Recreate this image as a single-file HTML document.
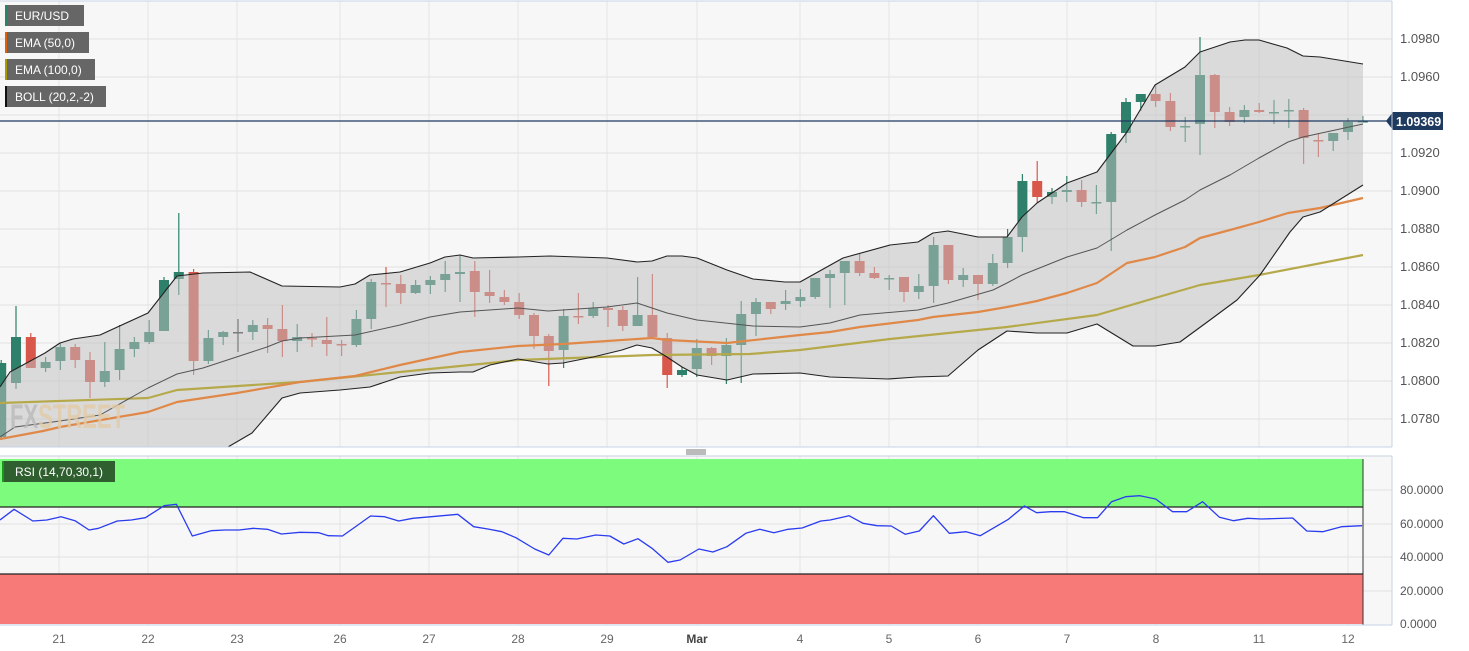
<!DOCTYPE html>
<html><head><meta charset="utf-8"><style>
html,body{margin:0;padding:0;background:#fff;width:1469px;height:651px;overflow:hidden;font-family:"Liberation Sans",sans-serif}
svg{display:block}
</style></head><body>
<svg id="s" width="1469" height="651" xmlns="http://www.w3.org/2000/svg" font-family="Liberation Sans, sans-serif"></svg>
<script>
const S=document.getElementById('s');let h='';
const R=(x,y,w,hh,f,ex='')=>h+=`<rect x="${x}" y="${y}" width="${w}" height="${hh}" fill="${f}" ${ex}/>`;
const L=(x1,y1,x2,y2,c,w=1)=>h+=`<line x1="${x1}" y1="${y1}" x2="${x2}" y2="${y2}" stroke="${c}" stroke-width="${w}"/>`;
const T=(x,y,t,sz,c,ex='')=>h+=`<text x="${x}" y="${y}" font-size="${sz}" fill="${c}" ${ex}>${t}</text>`;
const P=(pts,c,w,ex='')=>h+=`<polyline points="${pts.map(p=>p.join(',')).join(' ')}" fill="none" stroke="${c}" stroke-width="${w}" stroke-linejoin="round" ${ex}/>`;
// main panel bg
R(0,1,1392,446,'#f7f7f7');
R(0,456,1392,169,'#f7f7f7');
const days=[59,148,237,340,429,518,607,697,800,889,978,1067,1156,1259,1348];
days.forEach(x=>{L(x,1,x,447,'#e4e4e4');L(x,456,x,625,'#e4e4e4');});
for(let y=39;y<447;y+=38)L(0,y,1392,y,'#e2e2e2');
// candles
const C=[[363,437,360,440,'g'],[337,383,306,389,'g'],[337,368,333,368,'r'],[362,368,357,372,'g'],[347,361,343,370,'g'],[347,360,344,368,'r'],[360,382,352,398,'r'],[371,382,342,387,'g'],[349,370,325,380,'g'],[342,349,337,357,'g'],[332,342,320,344,'g'],[280,331,277,331,'g'],[272,279,213,295,'g'],[272,361,269,375,'r'],[338,361,330,364,'g'],[332,337,331,345,'g'],[332,333,319,352,'k'],[325,332,320,340,'g'],[325,329,318,353,'r'],[329,341,305,357,'r'],[337,341,324,352,'g'],[338,339,333,347,'r'],[340,344,317,356,'r'],[344,345,340,356,'r'],[319,345,310,347,'g'],[282,319,279,329,'g'],[283,284,267,307,'r'],[284,293,275,304,'r'],[285,293,280,294,'g'],[280,285,276,294,'g'],[274,280,261,292,'g'],[272,274,255,302,'g'],[271,292,261,317,'r'],[292,296,270,303,'r'],[297,302,290,305,'r'],[302,315,293,319,'r'],[315,336,313,349,'r'],[336,351,334,386,'r'],[316,350,309,368,'g'],[316,317,293,324,'r'],[308,316,302,318,'g'],[308,310,305,327,'r'],[310,326,306,331,'r'],[315,326,277,326,'g'],[315,337,274,337,'r'],[338,375,333,388,'r'],[370,375,367,377,'g'],[348,369,339,377,'g'],[348,356,347,365,'r'],[345,356,338,384,'g'],[314,345,301,383,'g'],[302,314,298,336,'g'],[302,309,302,314,'r'],[301,304,290,310,'g'],[297,301,289,307,'g'],[278,297,278,299,'g'],[274,278,270,308,'g'],[261,273,261,305,'g'],[261,273,254,276,'r'],[273,278,267,279,'r'],[278,279,275,290,'g'],[277,292,277,302,'r'],[286,292,274,299,'g'],[245,286,237,303,'g'],[245,280,245,284,'r'],[275,280,268,287,'g'],[275,284,275,300,'r'],[263,284,254,286,'g'],[237,263,229,268,'g'],[181,237,174,252,'g'],[181,197,161,203,'r'],[192,197,188,204,'g'],[190,192,176,202,'g'],[190,202,180,207,'r'],[202,203,185,214,'g'],[134,202,132,251,'g'],[102,133,98,143,'g'],[94,102,94,111,'g'],[94,101,85,107,'r'],[101,127,93,131,'r'],[126,127,117,142,'g'],[75,124,37,155,'g'],[75,112,74,128,'r'],[112,122,107,126,'r'],[110,117,105,123,'g'],[110,112,103,113,'r'],[112,113,100,124,'g'],[110,111,99,128,'g'],[110,138,108,164,'r'],[140,141,133,157,'r'],[133,141,133,151,'g'],[122,132,118,140,'g'],[121,122,116,122,'g']];
const col={g:'#2e806a',r:'#d8574a',k:'#333'};
C.forEach((c,i)=>{const x=1.2+14.8*i;const f=col[c[4]];L(x,c[2],x,c[3],f,1.2);R(x-5,c[0],10,Math.max(1.5,c[1]-c[0]),f);});
// bands
const up=[[0,387],[10,372],[45,353],[60,343],[73,339],[100,335],[148,313],[177,276],[203,273],[250,272],[282,286],[340,287],[355,284],[370,275],[400,272],[430,263],[445,257],[460,255],[473,258],[518,257],[550,256],[607,258],[637,262],[652,261],[667,256],[682,256],[697,258],[727,270],[753,279],[785,282],[800,282],[843,258],[890,245],[918,242],[933,233],[948,231],[978,237],[1007,237],[1022,217],[1037,203],[1067,183],[1097,172],[1127,132],[1155,85],[1185,67],[1200,52],[1230,42],[1245,40],[1259,40],[1287,48],[1303,56],[1320,57],[1363,64]];
const lo=[[0,470],[150,470],[228,447],[252,433],[282,398],[300,393],[340,390],[370,387],[385,382],[400,377],[430,373],[460,372],[473,372],[490,365],[518,359],[548,364],[563,363],[593,357],[622,350],[637,345],[652,348],[667,357],[682,367],[697,375],[727,380],[753,374],[800,373],[830,377],[888,379],[917,377],[948,376],[978,350],[1007,331],[1037,333],[1067,333],[1097,324],[1133,346],[1155,346],[1180,342],[1210,320],[1237,300],[1260,275],[1290,232],[1303,217],[1320,212],[1363,185]];
const mid=[[0,437],[15,427],[60,421],[100,415],[148,388],[177,374],[203,368],[267,347],[282,341],[300,338],[355,335],[400,325],[430,317],[460,312],[518,308],[548,311],[607,307],[637,303],[667,313],[697,320],[753,326],[800,327],[830,323],[860,315],[918,310],[948,303],[993,290],[1007,283],[1022,275],[1067,257],[1097,248],[1127,230],[1155,215],[1185,200],[1200,190],[1230,175],[1259,158],[1288,142],[1303,137],[1363,124]];
h+=`<clipPath id="cp"><rect x="0" y="1" width="1392" height="446"/></clipPath><g clip-path="url(#cp)">`;
h+=`<polygon points="${up.concat(lo.slice().reverse()).map(p=>p.join(',')).join(' ')}" fill="rgba(191,191,191,0.52)"/>`;
const e50=[[0,439],[43,431],[60,427],[148,412],[177,402],[237,393],[300,382],[355,376],[400,365],[460,352],[518,346],[563,344],[607,341],[652,338],[667,340],[727,343],[800,335],[830,332],[860,327],[918,320],[933,317],[978,312],[1007,307],[1037,301],[1067,293],[1097,283],[1127,263],[1155,257],[1185,247],[1200,238],[1230,230],[1259,222],[1288,213],[1320,208],[1363,198]];
const e100=[[0,403],[148,398],[177,390],[283,383],[300,382],[400,372],[460,366],[490,363],[518,360],[652,355],[750,354],[800,350],[890,339],[1007,327],[1097,315],[1155,298],[1200,285],[1259,275],[1363,255]];
P(e100,'#b5a94a',2.2);P(e50,'#e08848',2.2);
P(up,'#222',1.1);P(lo,'#222',1.1);P(mid,'#555',1);
// watermark
h+=`<text x="10" y="428" font-size="34" font-weight="bold" fill="#b9b9b9" fill-opacity="0.8" textLength="115" lengthAdjust="spacingAndGlyphs">FX<tspan fill="#e2c9a4">STREET</tspan></text>`;
h+='</g>';
// price line
L(0,121,1392,121,'#1f3a5f',1.2);
h+=`<polygon points="1386,121 1393,112 1443,112 1443,130 1393,130" fill="#1f3a5f"/>`;
T(1396,126,'1.09369',12.5,'#fff','font-weight="bold"');
// borders
L(0,1,1392,1,'#c8d0e0');L(1392,1,1392,447,'#c8d0e0');L(0,447,1392,447,'#c8d0e0');
['1.0980','1.0960','1.0940','1.0920','1.0900','1.0880','1.0860','1.0840','1.0820','1.0800','1.0780'].forEach((t,i)=>{if(i!=2)T(1400,43+38*i,t,13,'#555');});
// legend
[['EUR/USD',79,'#2e806a'],['EMA (50,0)',84,'#e0600a'],['EMA (100,0)',90,'#a89a00'],['BOLL (20,2,-2)',101,'#111']].forEach((l,i)=>{const y=5+27*i;R(5,y,l[1],21,'#666');R(5,y,2,21,l[2]);T(15,y+15,l[0],12,'#fff');});
// separator
for(let k=0;k<3;k++)L(686,450+2*k,706,450+2*k,'#777',1);
// RSI
[490,524,557,591].forEach(y=>L(0,y,1392,y,'#e2e2e2'));
R(0,459,1363,48,'#7dfb7d');L(0,507,1363,507,'#222',1.3);
R(0,574,1363,50,'#f87a78');L(0,574,1363,574,'#222',1.3);
L(1363,459,1363,625,'#333',1);
const rz=[[0,210],[15,178],[35,213],[50,210],[65,200],[80,212],[95,240],[105,235],[125,213],[140,210],[155,203],[175,167],[188,163],[205,258],[225,242],[240,240],[255,240],[270,235],[285,238],[300,252],[320,247],[340,248],[350,257],[365,258],[380,228],[395,198],[410,200],[425,213],[440,205],[460,200],[488,193],[505,230],[520,237],[535,245],[550,263],[570,297],[585,315],[600,265],[615,267],[635,255],[650,258],[665,282],[680,266],[695,295],[712,337],[725,330],[745,297],[760,306],[775,290],[795,250],[810,238],[825,248],[840,238],[855,234],[875,213],[885,210],[905,197],[920,220],[935,227],[950,228],[965,253],[980,243],[995,197],[1012,250],[1030,245],[1045,257],[1075,208],[1092,168],[1105,188],[1120,185],[1135,185],[1155,203],[1170,203],[1185,155],[1200,140],[1215,137],[1232,147],[1250,185],[1265,185],[1282,155],[1300,202],[1315,212],[1330,205],[1345,207],[1378,204],[1393,243],[1410,245],[1430,230],[1452,227]];
P(rz.map(p=>[(p[0]/1.066).toFixed(1),(450+p[1]/3).toFixed(1)]),'#2a3cf0',1.3);
L(0,456,1392,456,'#c8d0e0');L(1392,456,1392,625,'#c8d0e0');L(0,625,1392,625,'#c8d0e0');
R(2,461,113,21,'#2f5f2f');R(2,461,2,21,'#1a9a1a');T(15,476,'RSI (14,70,30,1)',12,'#fff');
[['80.0000',494],['60.0000',528],['40.0000',561],['20.0000',595],['0.0000',628]].forEach(a=>T(1400,a[1],a[0],12,'#555'));
// dates
['21','22','23','26','27','28','29','Mar','4','5','6','7','8','11','12'].forEach((t,i)=>T(days[i],643,t,12,t=='Mar'?'#444':'#666',`text-anchor="middle" ${t=='Mar'?'font-weight="bold"':''}`));
S.innerHTML=h;
</script>
</body></html>
